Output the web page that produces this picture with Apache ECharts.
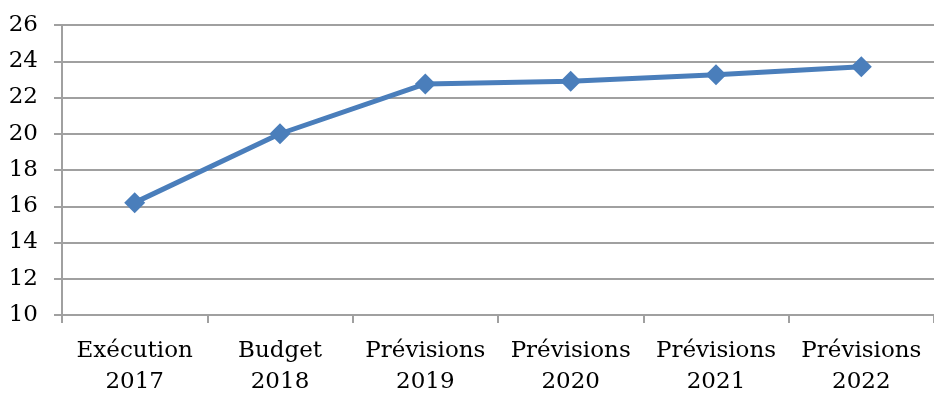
<!DOCTYPE html>
<html>
<head>
<meta charset="utf-8">
<script src="https://cdn.jsdelivr.net/npm/echarts@6/dist/echarts.min.js"></script>
<style>
  html, body { margin: 0; padding: 0; background: #fff; }
  #chart { width: 934px; height: 393px; }
</style>
</head>
<body>
<div id="chart"></div>
<script>
// catégories et valeurs
const categories = ['Exécution\n2017', 'Budget\n2018', 'Prévisions\n2019', 'Prévisions\n2020', 'Prévisions\n2021', 'Prévisions\n2022']
const values = [16.2, 20.0, 22.75, 22.9, 23.25, 23.7]

const chart = echarts.init(document.getElementById('chart'))
const axisColor = '#a0a0a0'
const font = 'DejaVu Serif'

chart.setOption({
  animation: false,
  grid: { left: 62, right: 0, top: 25, bottom: 78, outerBoundsMode: 'none' },
  xAxis: {
    type: 'category',
    data: categories,
    boundaryGap: true,
    axisLine: { lineStyle: { color: axisColor, width: 2 } },
    axisTick: { show: true, length: 8, lineStyle: { color: axisColor, width: 2 } },
    axisLabel: { color: '#000', fontFamily: font, fontSize: 23, lineHeight: 31, margin: 21, interval: 0 }
  },
  yAxis: {
    type: 'value',
    min: 10,
    max: 26,
    interval: 2,
    axisLine: { show: true, lineStyle: { color: axisColor, width: 2 } },
    axisTick: { show: true, length: 8, lineStyle: { color: axisColor, width: 2 } },
    splitLine: { lineStyle: { color: axisColor, width: 2 } },
    axisLabel: { color: '#000', fontFamily: font, fontSize: 23, margin: 24 }
  },
  series: [{
    type: 'line',
    data: values,
    symbol: 'diamond',
    symbolSize: 21,
    lineStyle: { color: '#4a7ebb', width: 5 },
    itemStyle: { color: '#4a7ebb' }
  }]
})
</script>
</body>
</html>
